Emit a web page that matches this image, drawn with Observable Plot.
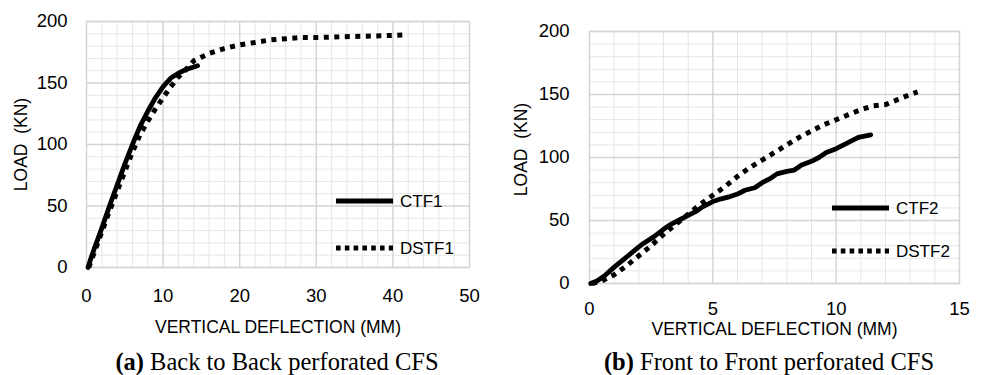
<!DOCTYPE html>
<html><head><meta charset="utf-8">
<script src="https://cdn.jsdelivr.net/npm/d3@7"></script>
<script src="https://cdn.jsdelivr.net/npm/@observablehq/plot@0.6"></script>
<style>
body{margin:0;background:#fff;width:984px;height:375px;overflow:hidden;position:relative;font-family:"Liberation Sans",Arial,sans-serif}
.panel{position:absolute;top:0}
.caption{position:absolute;top:348px;width:440px;font-family:"Liberation Serif","Times New Roman",serif;font-size:24.5px;line-height:28px;text-align:center;color:#000;white-space:pre}
.legend{position:absolute;left:0;top:0}
</style></head><body>
<div id="a" class="panel" style="left:0px"></div>
<div id="b" class="panel" style="left:492px"></div>
<div class="caption" style="left:57px"><b>(a)</b> Back to Back perforated CFS</div>
<div class="caption" style="left:549px"><b>(b)</b> Front to Front perforated CFS</div>
<script>
// ---- data (deflection mm, load kN) ----
const ctf1 = [[0.2,0],[0.5,6],[1,15],[2,32],[3,50],[4,67],[5,84],[6,100],[7,115],[8,127],[9,138],[10,147],[11,154],[12,158],[13,161],[14,163],[14.5,164]];
const dstf1 = [[0.3,0],[1,12],[2,29],[3,46],[4,62],[5,78],[6,94],[7,108],[8,119],[9,129],[10,138],[11,147],[12,155],[13,161],[14,168],[15,171],[16,174],[18,178],[20,181],[22,183],[24,185],[26,186],[28,187],[30,187],[33,187.5],[36,188],[39,188.5],[41.5,189]];
const ctf2 = [[0.05,0],[0.3,2],[0.6,6],[1,13],[1.5,21],[2,29],[2.2,32],[2.6,37],[3,43],[3.3,47],[3.7,51],[4,54],[4.3,57],[4.6,61],[5,65],[5.3,67],[5.7,69],[6,71],[6.3,74],[6.7,76],[7,80],[7.3,83],[7.6,87],[8,89],[8.3,90],[8.6,94],[9,97],[9.3,100],[9.6,104],[10,107],[10.3,110],[10.6,113],[10.9,116],[11.4,118]];
const dstf2 = [[0.1,0],[0.5,2],[1,7],[1.5,14],[2,22],[2.5,30],[3,39],[3.5,47],[4,55],[4.5,63],[5,70],[5.5,77],[6,85],[6.5,92],[7,98],[7.5,104],[8,110],[8.5,116],[9,121],[9.5,126],[10,130],[10.5,134],[11,138],[11.5,141],[12,142],[12.5,146],[13,150],[13.3,152]];

const xTicksA = [0,10,20,30,40,50];
const xMinorA = d3.range(0,51,2);
const xTicksB = [0,5,10,15];
const xMinorB = d3.range(0,16,1);
const yTicks = [0,50,100,150,200];
const yMinor = d3.range(0,201,10);

const xLabel = "VERTICAL DEFLECTION (MM)";
const yLabel = "LOAD\u00a0 (KN)";
const seriesA = ["CTF1","DSTF1"];
const seriesB = ["CTF2","DSTF2"];

const FONT = '"Liberation Sans", Arial, sans-serif';
const DASH = "5,5.5";
const LEG_DASH = "4.6,4.2";

function makePanel(cfg){
  const toObj = a => a.map(([x,y]) => ({x,y}));
  return Plot.plot({
    width: 492, height: 345,
    marginLeft: cfg.ml, marginRight: cfg.mr, marginTop: cfg.mt, marginBottom: cfg.mb,
    style: {fontFamily: FONT, fontSize: "18.5px", color: "#000", background: "transparent", overflow: "visible"},
    x: {domain: cfg.xDomain},
    y: {domain: [0,200]},
    marks: [
      Plot.gridX(cfg.xMinor, {stroke: "#e6e6e6", strokeOpacity: 1, strokeWidth: 1}),
      Plot.gridY(yMinor, {stroke: "#e6e6e6", strokeOpacity: 1, strokeWidth: 1}),
      Plot.gridX(cfg.xTicks, {stroke: "#d4d4d4", strokeOpacity: 1, strokeWidth: 1.3}),
      Plot.gridY(yTicks, {stroke: "#d4d4d4", strokeOpacity: 1, strokeWidth: 1.3}),
      Plot.frame({stroke: "#d4d4d4", strokeWidth: 1.3}),
      Plot.axisX(cfg.xTicks, {tickSize: 0, tickPadding: cfg.xPad, label: null, fontSize: 18.5}),
      Plot.axisY(yTicks, {tickSize: 0, tickPadding: cfg.yPad, label: null, fontSize: 18.5}),
      Plot.text([xLabel], {frameAnchor: "bottom", dy: cfg.xLabDy, fontSize: 17.5, textAnchor: "middle", lineAnchor: "middle"}),
      Plot.text([yLabel], {frameAnchor: "left", dx: cfg.yLabDx, dy: cfg.yLabDyOff, rotate: -90, fontSize: 17.5, textAnchor: "middle", lineAnchor: "middle"}),
      Plot.line(toObj(cfg.s1), {x: "x", y: "y", stroke: "#000", strokeWidth: 4.8, strokeLinejoin: "round", strokeLinecap: "round"}),
      Plot.line(toObj(cfg.s2), {x: "x", y: "y", stroke: "#000", strokeWidth: 5, strokeDasharray: DASH, strokeLinecap: "butt"})
    ]
  });
}

function addLegend(el, names, lx0, lx1, y1, y2){
  const ns = "http://www.w3.org/2000/svg";
  const svg = document.createElementNS(ns, "svg");
  svg.setAttribute("width", 492); svg.setAttribute("height", 345);
  svg.setAttribute("class", "legend");
  const rows = [[names[0], y1, null],[names[1], y2, LEG_DASH]];
  for (const [name, y, dash] of rows){
    const l = document.createElementNS(ns, "line");
    l.setAttribute("x1", lx0); l.setAttribute("x2", lx1);
    l.setAttribute("y1", y); l.setAttribute("y2", y);
    l.setAttribute("stroke", "#000"); l.setAttribute("stroke-width", 5);
    if (dash) l.setAttribute("stroke-dasharray", dash);
    svg.appendChild(l);
    const t = document.createElementNS(ns, "text");
    t.setAttribute("x", lx1 + 7); t.setAttribute("y", y);
    t.setAttribute("dy", "0.36em");
    t.setAttribute("font-family", FONT); t.setAttribute("font-size", 17);
    t.textContent = name;
    svg.appendChild(t);
  }
  el.style.width = "492px"; el.style.height = "345px";
  el.appendChild(svg);
}

const a = document.getElementById("a");
a.appendChild(makePanel({ml: 86, mr: 23, mt: 21, mb: 78, xDomain: [0,50], xTicks: xTicksA, xMinor: xMinorA,
  xPad: 21, yPad: 19, xLabDy: 60, yLabDx: -65, yLabDyOff: 0, s1: ctf1, s2: dstf1}));
addLegend(a, seriesA, 336, 393, 201, 248);

const b = document.getElementById("b");
b.appendChild(makePanel({ml: 97, mr: 25, mt: 31, mb: 62, xDomain: [0,15], xTicks: xTicksB, xMinor: xMinorB,
  xPad: 18, yPad: 20, xLabDy: 46, yLabDx: -68, yLabDyOff: -8, s1: ctf2, s2: dstf2}));
addLegend(b, seriesB, 340, 397, 208, 251);
for (const el of [a,b]) { el.firstChild.style.position = "absolute"; el.firstChild.style.left = "0"; el.firstChild.style.top = "0"; }
</script>
</body></html>
